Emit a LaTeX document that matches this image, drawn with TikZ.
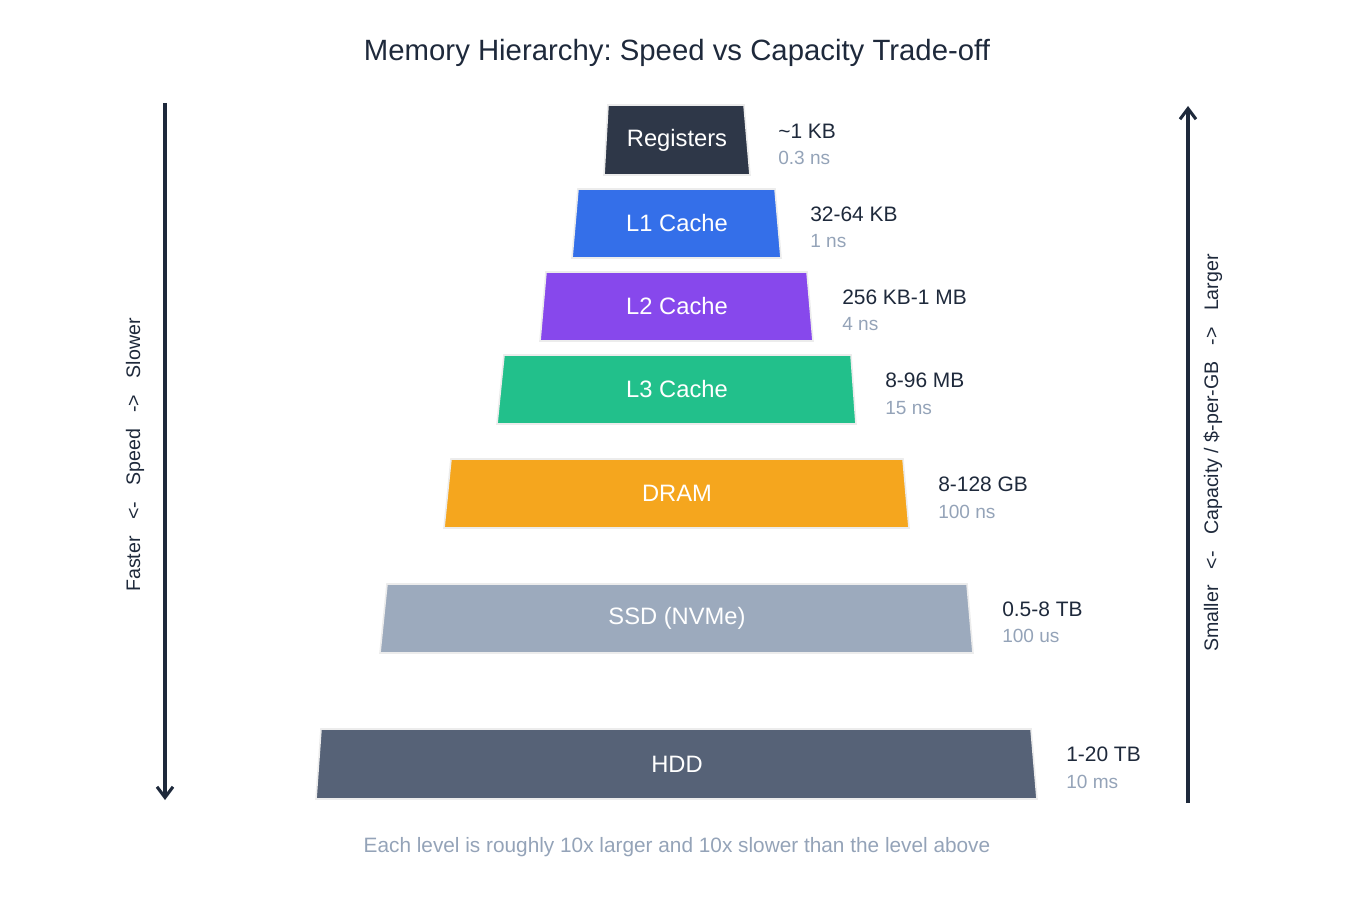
\documentclass[tikz,border=0pt]{standalone}
\usepackage{fontspec}
\setmainfont{Liberation Sans}
\usetikzlibrary{arrows.meta}
\frenchspacing
\definecolor{ink}{HTML}{1E293B}
\definecolor{muted}{HTML}{94A3B8}
\definecolor{regc}{HTML}{2E3748}
\definecolor{lonec}{HTML}{346FE9}
\definecolor{ltwoc}{HTML}{8748EC}
\definecolor{lthreec}{HTML}{22C08B}
\definecolor{dramc}{HTML}{F5A61E}
\definecolor{ssdc}{HTML}{9CAABD}
\definecolor{hddc}{HTML}{566277}
\newcommand{\gap}{\ \ \ }
\tikzset{
  level/.style={draw=gray!15, line width=1.2pt, line join=miter},
  levtext/.style={text=white, font=\fontsize{17.8}{20}\selectfont},
  sizetext/.style={anchor=west, text=ink, font=\fontsize{15.7}{18}\selectfont, inner sep=0pt},
  lattext/.style={anchor=west, text=muted, font=\fontsize{14.3}{17}\selectfont, inner sep=0pt},
  axis/.style={draw=ink, line width=2.3pt, -{Straight Barb[length=8pt,width=12pt,line width=2.3pt]}},
  axtext/.style={text=ink, rotate=90, font=\fontsize{14.7}{17}\selectfont}
}
\begin{document}
\begin{tikzpicture}[x=0.75pt,y=-0.75pt]
    \useasboundingbox (0,0) rectangle (1353,906);
    \node[text=ink, font=\fontsize{22}{25}\selectfont] (title) at (677,53) {Memory Hierarchy: Speed vs Capacity Trade-off};
    % levels
    \fill[regc,level] (608,105) -- (744,105) -- (750,175) -- (604,175) -- cycle;
    \node[levtext] (reg) at (677,140) {Registers};
    \fill[lonec,level] (578,189) -- (775,189) -- (781,258) -- (572,258) -- cycle;
    \node[levtext] (lone) at (677,223) {L1 Cache};
    \fill[ltwoc,level] (546,272) -- (807,272) -- (813,341) -- (540,341) -- cycle;
    \node[levtext] (ltwo) at (677,306) {L2 Cache};
    \fill[lthreec,level] (504,355) -- (851,355) -- (856,424) -- (497,424) -- cycle;
    \node[levtext] (lthree) at (677,389) {L3 Cache};
    \fill[dramc,level] (451,459) -- (903,459) -- (909,528) -- (444,528) -- cycle;
    \node[levtext] (dram) at (677,493) {DRAM};
    \fill[ssdc,level] (387,584) -- (967,584) -- (973,653) -- (380,653) -- cycle;
    \node[levtext] (ssd) at (677,618) {SSD (NVMe)};
    \fill[hddc,level] (321,729) -- (1031,729) -- (1037,799) -- (316,799) -- cycle;
    \node[levtext] (hdd) at (677,764) {HDD};
    % sizes and latencies
    \node[sizetext] (regsize) at (778,131) {\textasciitilde1 KB};
    \node[lattext] (reglat) at (778,158) {0.3 ns};
    \node[sizetext] (lonesize) at (810,214) {32-64 KB};
    \node[lattext] (lonelat) at (810,241) {1 ns};
    \node[sizetext] (ltwosize) at (842,297) {256 KB-1 MB};
    \node[lattext] (ltwolat) at (842,324) {4 ns};
    \node[sizetext] (lthreesize) at (885,380) {8-96 MB};
    \node[lattext] (lthreelat) at (885,408) {15 ns};
    \node[sizetext] (dramsize) at (938,484) {8-128 GB};
    \node[lattext] (dramlat) at (938,512) {100 ns};
    \node[sizetext] (ssdsize) at (1002,609) {0.5-8 TB};
    \node[lattext] (ssdlat) at (1002,636) {100 us};
    \node[sizetext] (hddsize) at (1066,754) {1-20 TB};
    \node[lattext] (hddlat) at (1066,782) {10 ms};
    % axes
    \coordinate (spdtop) at (165,103);
    \coordinate (spdbot) at (165,800);
    \coordinate (capbot) at (1188,803);
    \coordinate (captop) at (1188,106);
    \draw[axis] (spdtop) -- (spdbot);
    \draw[axis] (capbot) -- (captop);
    \node[axtext] (spdtext) at (135,455) {Faster\gap<-\gap Speed\gap->\gap Slower};
    \node[axtext] (captext) at (1213,453) {Smaller\gap<-\gap Capacity / \$-per-GB\gap->\gap Larger};
    \node[text=muted, font=\fontsize{15.6}{18}\selectfont] (note) at (677,847) {Each level is roughly 10x larger and 10x slower than the level above};
\end{tikzpicture}
\end{document}
